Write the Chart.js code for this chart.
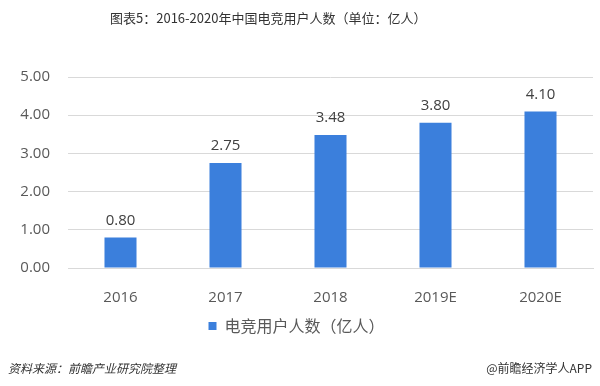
<!DOCTYPE html>
<html>
<head>
<meta charset="utf-8">
<script src="https://cdn.jsdelivr.net/npm/chart.js@4/dist/chart.umd.min.js"></script>
<style>
  body { margin: 0; background: #fff; }
  #wrap { position: relative; width: 600px; height: 386px; font-family: "Noto Sans CJK SC", sans-serif; }
  #title { position: absolute; left: 110px; top: 8px; font-size: 13px; color: #333; white-space: nowrap; }
  #src { position: absolute; left: 8px; top: 359px; font-size: 12px; color: #333; font-style: italic; }
  #app { position: absolute; right: 8px; top: 359px; font-size: 12px; color: #333; }
  canvas { position: absolute; left: 0; top: 0; }
</style>
</head>
<body>
<div id="wrap">
  <canvas id="barGraph" width="600" height="386"></canvas>
  <div id="title">图表5：2016-2020年中国电竞用户人数（单位：亿人）</div>
  <div id="src">资料来源：前瞻产业研究院整理</div>
  <div id="app">@前瞻经济学人APP</div>
</div>
<script>
const years = ['2016', '2017', '2018', '2019E', '2020E']
const users = [0.80, 2.75, 3.48, 3.80, 4.10]
const yTicks = [0, 1, 2, 3, 4, 5]

// value labels above each bar
const barLabels = {
    id: 'barLabels',
    afterDatasetsDraw(chart){
        const ctx = chart.ctx
        const meta = chart.getDatasetMeta(0)
        ctx.save()
        ctx.font = '15px "Open Sans", sans-serif'
        ctx.fillStyle = '#404040'
        ctx.textAlign = 'center'
        ctx.textBaseline = 'middle'
        meta.data.forEach((bar, i)=>{
            ctx.fillText(users[i].toFixed(2), bar.x, bar.y - 17)
        })
        ctx.restore()
    }
}

const myChart = new Chart(document.querySelector('#barGraph'), {
    type: 'bar',
    data: {
        labels: years,
        datasets: [{
            label: '电竞用户人数（亿人）',
            data: users,
            backgroundColor: '#3b7fdc',
            categoryPercentage: 1,
            barPercentage: 0.305
        }]
    },
    options: {
        responsive: false,
        animation: false,
        layout: { padding: { top: 77, right: 7, left: 0, bottom: 42 } },
        scales: {
            x: {
                grid: { display: false },
                border: { color: '#d9d9d9' },
                ticks: { color: '#595959', font: { size: 15, family: '"Open Sans", sans-serif' }, padding: 13 },
                afterFit: (s)=>{ s.height = 40 }
            },
            y: {
                min: 0,
                max: 5,
                afterBuildTicks: (s)=>{ s.ticks = yTicks.map(v=>({ value: v })) },
                grid: { color: '#d9d9d9', drawTicks: false },
                border: { display: false },
                ticks: {
                    color: '#595959',
                    font: { size: 15, family: '"Open Sans", sans-serif' },
                    padding: 18,
                    callback: (v)=>v.toFixed(2)
                },
                afterFit: (s)=>{ s.width = 68 }
            }
        },
        plugins: {
            legend: {
                position: 'bottom',
                labels: {
                    boxWidth: 8,
                    boxHeight: 8,
                    padding: 10,
                    color: '#595959',
                    font: { size: 16, family: '"Noto Sans CJK SC", sans-serif' }
                }
            },
            tooltip: { enabled: false }
        }
    },
    plugins: [barLabels]
})
</script>
</body>
</html>
